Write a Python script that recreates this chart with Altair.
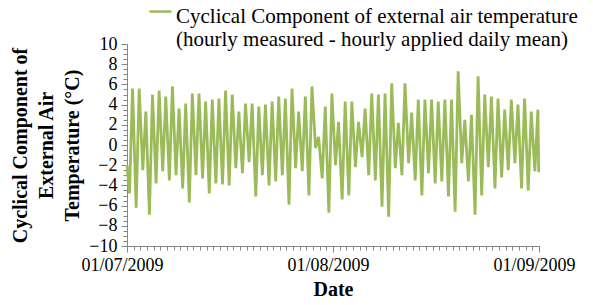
import json
import altair as alt
import pandas as pd

# ---- data (one trough and one peak per day) ----
days = list(range(62))
trough = [-4.8, -6.2, -2.5, -6.9, -3.8, -2.6, -3.5, -3.0, -4.3, -5.7,
          -3.0, -3.3, -4.8, -3.8, -3.9, -4.0, -2.3, -2.8, -1.7, -5.1,
          -3.0, -4.0, -3.6, -3.0, -5.9, -2.3, -2.6, -5.0, -0.3, -3.3,
          -6.7, -2.0, -5.4, -5.0, -2.2, -1.2, -3.0, -3.5, -6.1, -7.1,
          -2.3, -3.0, -1.8, -3.5, -5.0, -2.8, -3.8, -3.6, -5.1, -6.6,
          -1.8, -3.6, -6.9, -5.0, -2.2, -4.3, -3.2, -2.5, -1.8, -4.3,
          -4.5, -2.6]
peak = [5.6, 5.6, 3.3, 5.0, 5.4, 4.8, 5.8, 3.6, 4.1, 5.1,
        5.1, 4.3, 4.5, 4.6, 5.4, 5.0, 3.3, 4.1, 4.1, 3.8,
        4.0, 4.3, 4.8, 4.6, 5.6, 3.3, 4.8, 5.8, 0.8, 3.8,
        5.1, 2.3, 4.3, 4.3, 2.3, 3.6, 5.1, 5.0, 5.1, 6.1,
        2.2, 6.1, 3.2, 4.5, 4.5, 4.5, 4.3, 4.5, 4.5, 7.3,
        2.5, 3.0, 6.8, 5.0, 4.8, 4.6, 3.5, 4.5, 4.0, 4.6,
        3.3, 3.5]
start_value = -2.0
end_value = -2.7
trough_hour = 9
peak_hour = 20
end_hour = 23

month_days = [0, 31, 62]
month_labels = ["01/07/2009", "01/08/2009", "01/09/2009"]
y_ticks = [-10, -8, -6, -4, -2, 0, 2, 4, 6, 8, 10]
legend_lines = ["Cyclical Component of external air temperature",
                "(hourly measured - hourly applied daily mean)"]
y_title = ["Cyclical Component of", "External Air", "Temperature (\u00b0C)"]

rows = [(0.0, start_value)]
for d in days:
    rows.append((d + trough_hour / 24, trough[d]))
    rows.append((d + peak_hour / 24, peak[d]))
rows.append((days[-1] + end_hour / 24, end_value))
series_key = "cyc"
df = pd.DataFrame(rows, columns=["day", "value"])
df["series"] = series_key

FONT = "Liberation Serif"
GREEN = "#9BBB59"
GREY = "#868686"

x_scale = alt.Scale(domain=[0, 62], nice=False, zero=False)
y_scale = alt.Scale(domain=[-10, 10], nice=False)

label_expr = " : ".join(
    f"datum.value == {v} ? '{t}'" for v, t in zip(month_days, month_labels)
) + " : ''"

main = alt.Chart(df).mark_line(strokeWidth=2.8, clip=False).encode(
    x=alt.X("day:Q", scale=x_scale,
            axis=alt.Axis(values=month_days, labelExpr=label_expr, title="Date",
                          tickSize=6, labelPadding=4, labelOffset=-5,
                          labelFlush=False, labelOverlap=False,
                          titleFontWeight="bold", titleFontSize=20,
                          titleBaseline="alphabetic", titleY=49,
                          labelFontSize=18, orient="bottom")),
    y=alt.Y("value:Q", scale=y_scale,
            axis=alt.Axis(values=y_ticks, title=y_title, tickSize=6,
                          labelFontSize=18, labelPadding=4,
                          titleFontWeight="bold", titleFontSize=20,
                          titleLineHeight=26, titleAngle=-90,
                          titleAlign="center", titleBaseline="bottom",
                          titleX=-97, titleY=101, orient="left")),
    color=alt.Color("series:N",
                    scale=alt.Scale(domain=[series_key], range=[GREEN]),
                    legend=alt.Legend(title=None, orient="none",
                                      legendX=21, legendY=-51,
                                      labelExpr=json.dumps(legend_lines),
                                      labelFont=FONT, labelFontSize=21,
                                      labelLimit=600, labelBaseline="top",
                                      symbolType="M-1,0.55L1,0.55",
                                      symbolSize=484,
                                      symbolStrokeWidth=2.5, padding=0,
                                      labelOffset=3)),
)

minor = alt.Chart(df).mark_line(opacity=0).encode(
    x=alt.X("day:Q", scale=x_scale,
            axis=alt.Axis(values=list(range(0, 63)), labels=False, title=None,
                          domain=False, tickSize=4, orient="bottom")),
    y=alt.Y("value:Q", scale=y_scale,
            axis=alt.Axis(values=[v / 2 for v in range(-20, 21)], labels=False,
                          title=None, domain=False, tickSize=4, orient="left")),
)

chart = alt.layer(main, minor).resolve_axis(x="independent", y="independent").properties(
    width=412, height=202,
    autosize=alt.AutoSizeParams(type="none"),
    padding={"left": 119, "top": 36, "right": 45, "bottom": 55},
).configure_view(stroke=None).configure_axis(
    grid=False, domainColor=GREY, tickColor=GREY, domainWidth=1, tickWidth=1,
    labelFont=FONT, titleFont=FONT, labelColor="black", titleColor="black",
).configure_legend(labelColor="black")

chart.save("out.html", embed_options={"renderer": "svg", "actions": False})
